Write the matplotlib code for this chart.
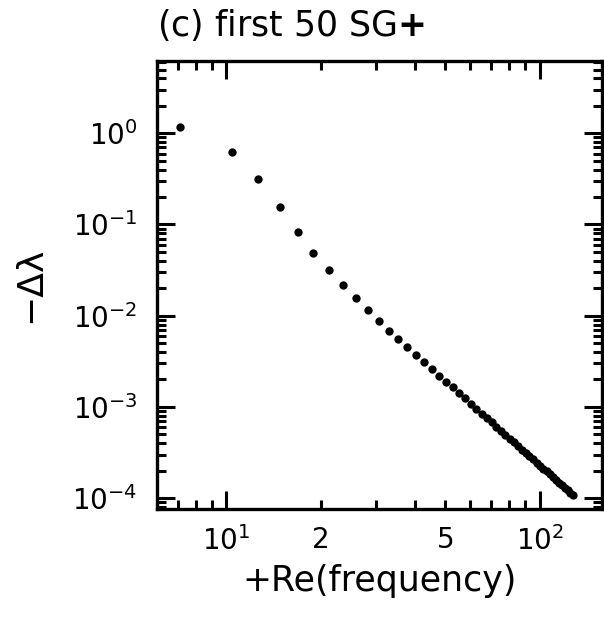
import math
import matplotlib
matplotlib.use("Agg")
import matplotlib.pyplot as plt
from matplotlib.ticker import FixedLocator, FuncFormatter, NullFormatter

plt.rcParams['font.family'] = ['DejaVu Sans']
plt.rcParams['mathtext.fontset'] = 'dejavusans'

# values
freq = [7.1, 10.4, 12.6, 14.8, 16.9, 18.9, 21.3, 23.5, 25.9, 28.3,
        30.7, 33.0, 35.4, 37.8, 40.3, 42.8, 45.3, 47.8, 50.3, 52.7,
        55.2, 57.7, 60.2, 62.7, 65.2, 67.7, 70.2, 72.7, 75.2, 77.7,
        80.2, 82.7, 85.2, 87.7, 90.2, 92.7, 95.2, 97.7, 100.2, 102.7,
        105.2, 107.7, 110.2, 112.7, 115.2, 117.7, 120.2, 122.7, 125.2, 127.7]
dlam = [1.18, 0.619, 0.319, 0.155, 0.0817, 0.0488, 0.0316, 0.0217, 0.0157, 0.0116,
        0.00883, 0.00687, 0.00562, 0.00449, 0.00367, 0.00308, 0.00259, 0.00217, 0.00187, 0.00165,
        0.00142, 0.00125, 0.00108, 9.54e-4, 8.46e-4, 7.54e-4, 6.75e-4, 6.06e-4, 5.47e-4, 4.95e-4,
        4.49e-4, 4.09e-4, 3.73e-4, 3.41e-4, 3.13e-4, 2.88e-4, 2.66e-4, 2.45e-4, 2.27e-4, 2.11e-4,
        1.96e-4, 1.82e-4, 1.70e-4, 1.58e-4, 1.48e-4, 1.39e-4, 1.30e-4, 1.22e-4, 1.15e-4, 1.08e-4]

xminor = [6, 7, 8, 9, 20, 30, 40, 50, 60, 70, 80, 90]
xminor_labels = {20: '2', 50: '5'}


def pow10(v, p):
    return r'$10^{%d}$' % round(math.log10(v))


fig = plt.figure(figsize=(6.04, 6.2), dpi=100)
ax = fig.add_axes([157/604, 1 - 509/620, 445/604, 448/620])

ax.plot(freq, dlam, 'o', color='black', ms=6, mew=0)
ax.set_xscale('log')
ax.set_yscale('log')
ax.set_xlim(6.0, 158)
ax.set_ylim(7.6e-5, 6.2)

ax.xaxis.set_major_locator(FixedLocator([10, 100]))
ax.xaxis.set_major_formatter(FuncFormatter(pow10))
ax.xaxis.set_minor_locator(FixedLocator(xminor))
ax.xaxis.set_minor_formatter(FuncFormatter(lambda v, p: xminor_labels.get(int(round(v)), '')))

ax.yaxis.set_major_locator(FixedLocator([1e-4, 1e-3, 1e-2, 1e-1, 1e0]))
ax.yaxis.set_major_formatter(FuncFormatter(pow10))
ymin = [m * 10.0**e for e in range(-5, 1) for m in range(2, 10)]
ax.yaxis.set_minor_locator(FixedLocator(ymin))
ax.yaxis.set_minor_formatter(NullFormatter())

for s in ax.spines.values():
    s.set_linewidth(2.4)
ax.tick_params(which='both', direction='in', top=True, right=True, width=2.2,
               labelsize=20)
ax.tick_params(axis='x', which='both', pad=12)
ax.tick_params(axis='y', which='both', pad=14)
ax.tick_params(which='major', length=13)
ax.tick_params(which='minor', length=6.5)

ax.set_xlabel('+Re(frequency)', fontsize=25, labelpad=6)
ax.set_ylabel('\u2212\u0394\u03bb', fontsize=26)
ax.yaxis.set_label_coords(-110/445, 0.5)
ax.set_title('(c) first 50 SG$\\mathbf{+}$', loc='left', fontsize=25, pad=18)

fig.savefig('out.png', dpi=100)
